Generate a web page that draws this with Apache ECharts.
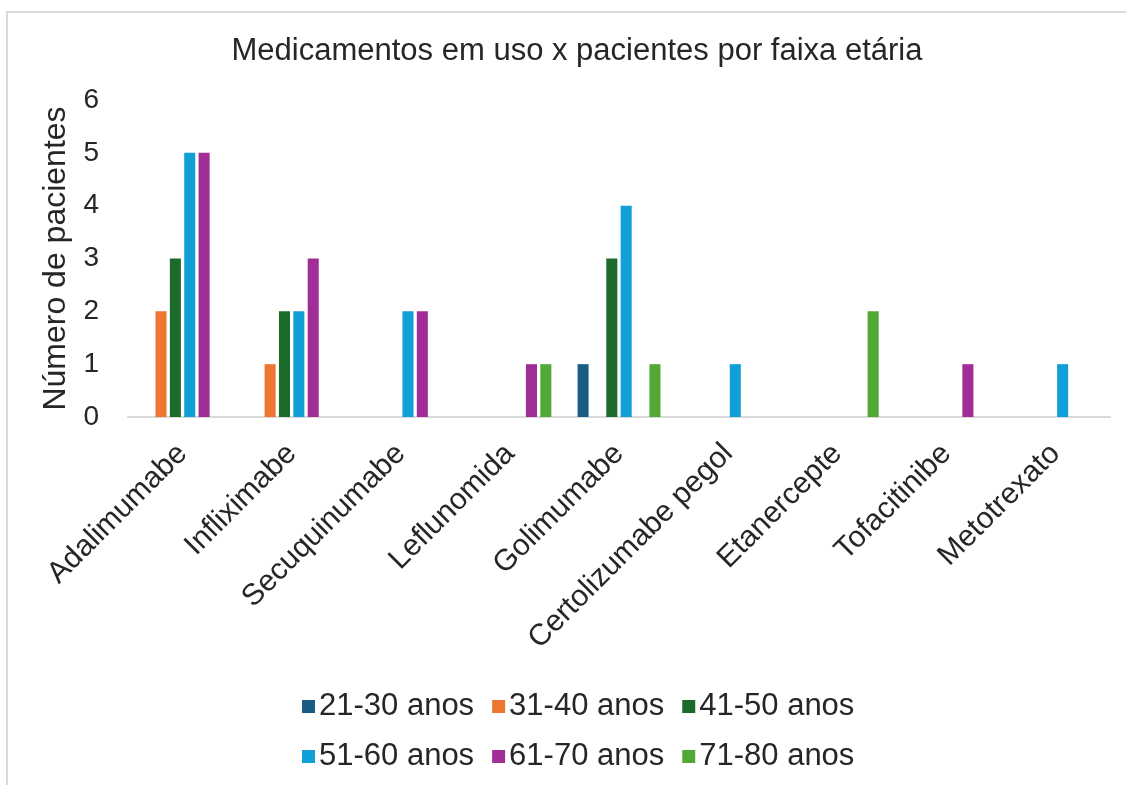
<!DOCTYPE html>
<html>
<head>
<meta charset="utf-8">
<script src="https://cdn.jsdelivr.net/npm/echarts@6/dist/echarts.min.js"></script>
<style>
    html, body { margin: 0; padding: 0; background: #fff; }
    #chart { width: 1126px; height: 785px; }
</style>
</head>
<body>
<div id="chart"></div>
<script>
var categories = ['Adalimumabe', 'Infliximabe', 'Secuquinumabe', 'Leflunomida', 'Golimumabe',
    'Certolizumabe pegol', 'Etanercepte', 'Tofacitinibe', 'Metotrexato'];
var ageGroups = ['21-30 anos', '31-40 anos', '41-50 anos', '51-60 anos', '61-70 anos', '71-80 anos'];
var age21_30 = [0, 0, 0, 0, 1, 0, 0, 0, 0];
var age31_40 = [2, 1, 0, 0, 0, 0, 0, 0, 0];
var age41_50 = [3, 2, 0, 0, 3, 0, 0, 0, 0];
var age51_60 = [5, 2, 2, 0, 4, 1, 0, 0, 1];
var age61_70 = [5, 3, 2, 1, 0, 0, 0, 1, 0];
var age71_80 = [0, 0, 0, 1, 1, 0, 2, 0, 0];
var yTicks = [0, 1, 2, 3, 4, 5, 6];

var colors = ['#175e82', '#ed7631', '#1c6b2a', '#119fd8', '#a12d96', '#52a834'];
var seriesValues = [age21_30, age31_40, age41_50, age51_60, age61_70, age71_80];
var font = 'Liberation Sans, Arial, sans-serif';
var textColor = '#262626';

var chart = echarts.init(document.getElementById('chart'));

var series = ageGroups.map(function (name, i) {
    return {
        name: name,
        type: 'bar',
        data: seriesValues[i],
        barGap: '30%',
        barCategoryGap: '24%',
        itemStyle: { color: colors[i] }
    };
});

var legendStyle = {
    left: 297,
    itemWidth: 13,
    itemHeight: 13,
    itemGap: 18,
    icon: 'rect',
    textStyle: { fontFamily: font, fontSize: 31, color: textColor, padding: [0, 0, 0, -1] }
};

var option = {
    animation: false,
    title: {
        text: 'Medicamentos em uso x pacientes por faixa etária',
        left: 572,
        textAlign: 'center',
        top: 31,
        textStyle: { fontFamily: font, fontSize: 31, fontWeight: 'normal', color: textColor }
    },
    graphic: [{
        type: 'rect',
        shape: { x: 7, y: 12, width: 1140, height: 800 },
        style: { fill: 'none', stroke: '#d9d9d9', lineWidth: 2 },
        silent: true
    }],
    legend: [
        Object.assign({ top: 686, data: ageGroups.slice(0, 3) }, legendStyle),
        Object.assign({ top: 736, data: ageGroups.slice(3) }, legendStyle)
    ],
    grid: { left: 128, right: 16, top: 100, bottom: 368 },
    xAxis: {
        type: 'category',
        data: categories,
        axisLine: { lineStyle: { color: '#d9d9d9', width: 2 } },
        axisTick: { show: false },
        axisLabel: {
            rotate: 45,
            interval: 0,
            margin: 32,
            fontFamily: font,
            fontSize: 30,
            color: textColor
        }
    },
    yAxis: {
        type: 'value',
        min: yTicks[0],
        max: yTicks[yTicks.length - 1],
        interval: 1,
        name: 'Número de pacientes',
        nameLocation: 'middle',
        nameGap: 45,
        nameTextStyle: { fontFamily: font, fontSize: 32, color: textColor },
        axisLine: { show: false },
        axisTick: { show: false },
        splitLine: { show: false },
        axisLabel: { margin: 29, fontFamily: font, fontSize: 28, color: textColor }
    },
    series: series
};
chart.setOption(option);
</script>
</body>
</html>
